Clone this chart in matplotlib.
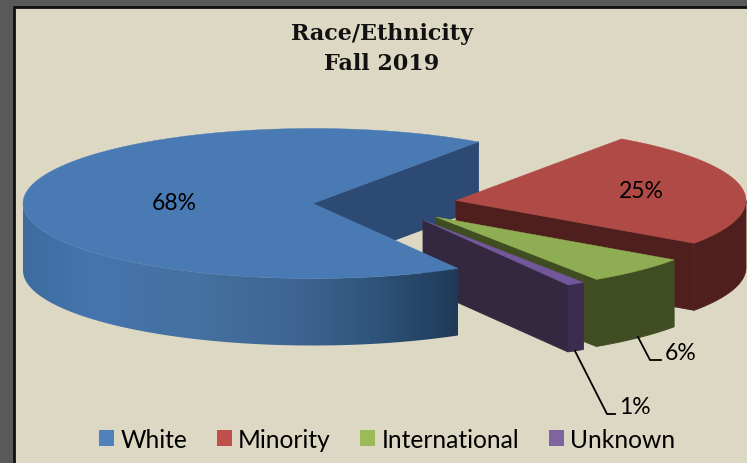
"""Exploded 3D-look pie of enrollment by race/ethnicity, drawn in pixel coordinates."""
import numpy as np
import matplotlib
matplotlib.use('Agg')
import matplotlib.pyplot as plt
from matplotlib.colors import to_rgb
from matplotlib.patches import Patch, Polygon, Rectangle

categories = ['White', 'Minority', 'International', 'Unknown']
values = [68, 25, 6, 1]
pct_labels = ['68%', '25%', '6%', '1%']

top_colors = ['#4A7AB3', '#B04A46', '#8FAD52', '#72579A']
cut_colors = ['#2C4A73', '#4F1F1D', '#404C22', '#33283F']
wall_colors = [None, '#4F1F1D', '#404C22', '#3C2D50']
legend_colors = ['#4F81BD', '#C0504D', '#9BBB59', '#8064A2']

# apex of each exploded slice, in pixels
centers = [(313, 204.5), (456, 201.5), (436, 218), (423, 221)]
RX, RY, DEPTH = 290, 75, 67
FIRST_SLICE_ANGLE = -60

BG = '#DDD8C3'
wall_stops_x = [23, 40, 90, 200, 300, 370, 457]
wall_stops_c = ['#3E6C9F', '#3F6EA3', '#4675AE', '#44719F', '#3E6492', '#30557C', '#1F3A57']


def rim(center, theta):
    return center[0] + RX * np.cos(theta), center[1] - RY * np.sin(theta)


def draw_cut(ax, center, theta, color, zorder=1):
    x, y = rim(center, theta)
    ax.add_patch(Polygon([center, (x, y), (x, y + DEPTH), (center[0], center[1] + DEPTH)],
                         closed=True, fc=color, ec=color, lw=0.6, zorder=zorder))


def draw_wall(ax, center, a0, a1, color):
    # only the part of the rim that faces the viewer
    thetas = np.linspace(a0, a1, 300)
    thetas = thetas[np.sin(thetas) <= 0]
    if len(thetas) < 2:
        return
    x, y = rim(center, thetas)
    pts = list(zip(x, y)) + list(zip(x[::-1], y[::-1] + DEPTH))
    if color is not None:
        ax.add_patch(Polygon(pts, closed=True, fc=color, ec=color, lw=0.6))
        return
    # horizontal shading, clipped to the wall outline
    xs = np.arange(wall_stops_x[0], wall_stops_x[-1] + 1)
    rgb = np.array([to_rgb(c) for c in wall_stops_c])
    strip = np.stack([np.interp(xs, wall_stops_x, rgb[:, i]) for i in range(3)], axis=-1)[np.newaxis]
    im = ax.imshow(strip, extent=(xs[0], xs[-1] + 1, 360, 190), aspect='auto', zorder=1,
                   interpolation='bilinear')
    clip = Polygon(pts, closed=True, transform=ax.transData)
    im.set_clip_path(clip)


def draw_top(ax, center, a0, a1, color):
    thetas = np.linspace(a0, a1, 300)
    x, y = rim(center, thetas)
    ax.add_patch(Polygon([center] + list(zip(x, y)), closed=True, fc=color, ec=color, lw=0.3))


def visible_cuts(a0, a1):
    # the cut face that looks towards the viewer has its outward normal pointing down
    out = []
    if np.sin(a0 - np.pi / 2) < 0:
        out.append(a0)
    if np.sin(a1 + np.pi / 2) < 0:
        out.append(a1)
    return out


def main():
    fig = plt.figure(figsize=(7.47, 4.64), dpi=100, facecolor='#595959')
    ax = fig.add_axes([0, 0, 1, 1])
    ax.axis('off')

    ax.add_patch(Rectangle((14, 8), 740, 460, fc=BG, ec='#111111', lw=2, zorder=0))

    # slices run clockwise from the first slice angle
    spans = np.radians(np.array(values) / sum(values) * 360)
    highs = np.radians(FIRST_SLICE_ANGLE) - np.concatenate([[0], np.cumsum(spans)[:-1]])
    lows = highs - spans

    # white's cut face sits behind everything, its top and wall in front of everything
    for a in visible_cuts(lows[0], highs[0]):
        draw_cut(ax, centers[0], a, cut_colors[0], zorder=0.5)
    for i in [1, 2, 3]:
        for a in visible_cuts(lows[i], highs[i]):
            draw_cut(ax, centers[i], a, cut_colors[i], zorder=0.5)
        draw_wall(ax, centers[i], lows[i], highs[i], wall_colors[i])
        draw_top(ax, centers[i], lows[i], highs[i], top_colors[i])
    # patches above share zorder by insertion; lift every slice patch below white
    for order, patch in enumerate(ax.patches):
        patch.set_zorder(0.001 * order)
    draw_wall(ax, centers[0], lows[0], highs[0], wall_colors[0])
    draw_top(ax, centers[0], lows[0], highs[0], top_colors[0])
    ax.patches[-1].set_zorder(2)

    # leader lines
    ax.plot([638, 650, 661], [338, 361, 361], color='black', lw=1.3, zorder=3)
    ax.plot([575, 607, 615], [352, 415, 415], color='black', lw=1.3, zorder=3)

    label_pos = [(174, 204), (641, 192), (681, 354), (635, 408)]
    for text, (x, y) in zip(pct_labels, label_pos):
        ax.text(x, y, text, ha='center', va='center', fontsize=16.5, family='Lato', color='black')

    ax.text(381.5, 49, 'Race/Ethnicity\nFall 2019', ha='center', va='center', fontsize=16,
            family='DejaVu Serif', fontweight='bold', color='#111111', linespacing=1.47)

    handles = [Patch(fc=c, ec='none') for c in legend_colors]
    ax.legend(handles, categories, ncol=4, loc='center', bbox_to_anchor=(387 / 747, 1 - 440.5 / 464),
              frameon=False, handlelength=0.62, handleheight=0.62, handletextpad=0.24,
              columnspacing=1.2, prop={'family': 'Lato', 'size': 17.7})

    ax.set_xlim(0, 747)
    ax.set_ylim(464, 0)
    fig.savefig('out.png', dpi=100, facecolor=fig.get_facecolor())
    plt.close(fig)


if __name__ == '__main__':
    main()
